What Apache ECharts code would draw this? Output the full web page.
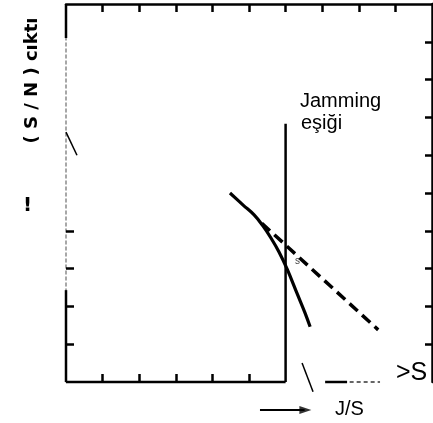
<!DOCTYPE html>
<html>
<head>
<meta charset="utf-8">
<script src="https://cdn.jsdelivr.net/npm/echarts@6/dist/echarts.min.js"></script>
<style>
html,body{margin:0;padding:0;background:#fff;}
#c{width:433px;height:423px;}
</style>
</head>
<body>
<div id="c"></div>
<script>
// ---- data (axis units: J/S horizontally, (S/N) output vertically) ----
const yTitle = '( S / N ) cıktı';
const topTicks = [1, 2, 3, 4, 5, 6, 7, 8, 9];
const bottomTicks = [1, 2, 3, 4, 5];
const leftTicks = [1, 2, 3, 4];
const rightTicks = [1, 2, 3, 4, 5, 6, 7, 8, 9];
const curveX = [4.48, 4.84, 5.14, 5.38, 5.60, 5.82, 6.04, 6.31, 6.53, 6.67];
const curveY = [5.00, 4.68, 4.42, 4.13, 3.81, 3.44, 2.99, 2.35, 1.83, 1.46];
const dashX = [5.35, 8.53];
const dashY = [4.20, 1.38];
const thresholdX = 6;
const thresholdTop = 6.83;
const baseEnd = 6;
const leftSolidLow = 2.43;
const leftSolidHigh = 9.1;
const leftSlashX = [0, 0.3];
const leftSlashY = [6.61, 6.0];
const bottomSlashX = [6.45, 6.75];
const bottomSlashY = [0.5, -0.26];
const bottomDashX = [7.08, 7.68];
const bottomDotX = [7.75, 8.58];
const arrowX = [5.3, 6.72];
const arrowY = -0.74;

const zip = (xs, ys) => xs.map((x, i) => [x, ys[i]]);
const blk = '#000';
const lineSeries = (data, width, extra) => Object.assign({
  type: 'line', data: data, showSymbol: false, symbol: 'none',
  lineStyle: { color: blk, width: width }, clip: false, silent: true, z: 3
}, extra || {});

const chart = echarts.init(document.getElementById('c'), null, { renderer: 'canvas' });
chart.setOption({
  animation: false,
  backgroundColor: '#fff',
  grid: [
    { left: 66, right: 1, top: 4, bottom: 41 },
    { left: 66, width: 1, top: 13, height: 135 }
  ],
  xAxis: [
    { type: 'value', min: 0, max: 10, interval: 1, position: 'bottom',
      axisLine: { show: false },
      axisTick: { show: true, inside: true, length: 8, customValues: bottomTicks, lineStyle: { color: blk, width: 2.5 } },
      axisLabel: { show: false }, splitLine: { show: false } },
    { type: 'value', min: 0, max: 10, interval: 1, position: 'top',
      axisLine: { show: true, onZero: false, lineStyle: { color: blk, width: 2.5 } },
      axisTick: { show: true, inside: true, length: 8, customValues: topTicks, lineStyle: { color: blk, width: 2.5 } },
      axisLabel: { show: false }, splitLine: { show: false } },
    { gridIndex: 1, type: 'value', show: false }
  ],
  yAxis: [
    { type: 'value', min: 0, max: 10, interval: 1, position: 'left',
      axisLine: { show: true, onZero: false, lineStyle: { color: '#8a8a8a', width: 1.5, type: [3, 3] } },
      axisTick: { show: true, inside: true, length: 8, customValues: leftTicks, lineStyle: { color: blk, width: 2.5 } },
      axisLabel: { show: false }, splitLine: { show: false } },
    { type: 'value', min: 0, max: 10, interval: 1, position: 'right',
      axisLine: { show: true, onZero: false, lineStyle: { color: blk, width: 2.5 } },
      axisTick: { show: true, inside: true, length: 7, customValues: rightTicks, lineStyle: { color: blk, width: 2.5 } },
      axisLabel: { show: false }, splitLine: { show: false } },
    { gridIndex: 1, type: 'value', min: 0, max: 1, position: 'left',
      name: yTitle, nameLocation: 'middle', nameRotate: 90, nameGap: 25,
      nameTextStyle: { fontFamily: '"DejaVu Sans", sans-serif', fontWeight: 'bold', fontSize: 18, color: blk },
      axisLine: { show: false }, axisTick: { show: false }, axisLabel: { show: false }, splitLine: { show: false } }
  ],
  series: [
    lineSeries([[0, 0], [baseEnd, 0]], 2.5),
    lineSeries([[0, 0], [0, leftSolidLow]], 2.5),
    lineSeries([[0, leftSolidHigh], [0, 10]], 2.5),
    lineSeries([[thresholdX, 0], [thresholdX, thresholdTop]], 2.5),
    lineSeries(zip(curveX, curveY), 3.2, { smooth: 0.4 }),
    lineSeries(zip(dashX, dashY), 3.5, { lineStyle: { color: blk, width: 3.5, type: [11, 6] } }),
    lineSeries(zip(leftSlashX, leftSlashY), 1.5),
    lineSeries(zip(bottomSlashX, bottomSlashY), 1.5),
    lineSeries([[bottomDashX[0], 0], [bottomDashX[1], 0]], 2.5),
    lineSeries([[bottomDotX[0], 0], [bottomDotX[1], 0]], 1.5, { lineStyle: { color: '#333', width: 1.5, type: [4, 3] } }),
    lineSeries([[arrowX[0], arrowY], [arrowX[1] - 0.2, arrowY]], 2),
    { type: 'scatter', data: [[arrowX[1] - 0.18, arrowY]], symbol: 'triangle', symbolSize: [8, 12],
      symbolRotate: -90, clip: false, silent: true, itemStyle: { color: blk }, z: 3 }
  ],
  graphic: [
    { type: 'text', left: 300, top: 91, style: { text: 'Jamming', font: '20px "Liberation Sans", Arial, sans-serif', fill: blk } },
    { type: 'text', left: 301, top: 113, style: { text: 'eşiği', font: '20px "Liberation Sans", Arial, sans-serif', fill: blk } },
    { type: 'text', left: 295, top: 256, z: 100, style: { text: 's', font: '10px "Liberation Sans", Arial, sans-serif', fill: '#444' } },
    { type: 'text', left: 396, top: 361, style: { text: '>S', font: '25px "Liberation Sans", Arial, sans-serif', fill: blk } },
    { type: 'text', left: 335, top: 399, style: { text: 'J/S', font: '20px "Liberation Sans", Arial, sans-serif', fill: blk } },
    { type: 'text', left: 23, top: 196, style: { text: '!', font: 'bold 20px "DejaVu Sans", sans-serif', fill: blk } }
  ]
});
</script>
</body>
</html>
